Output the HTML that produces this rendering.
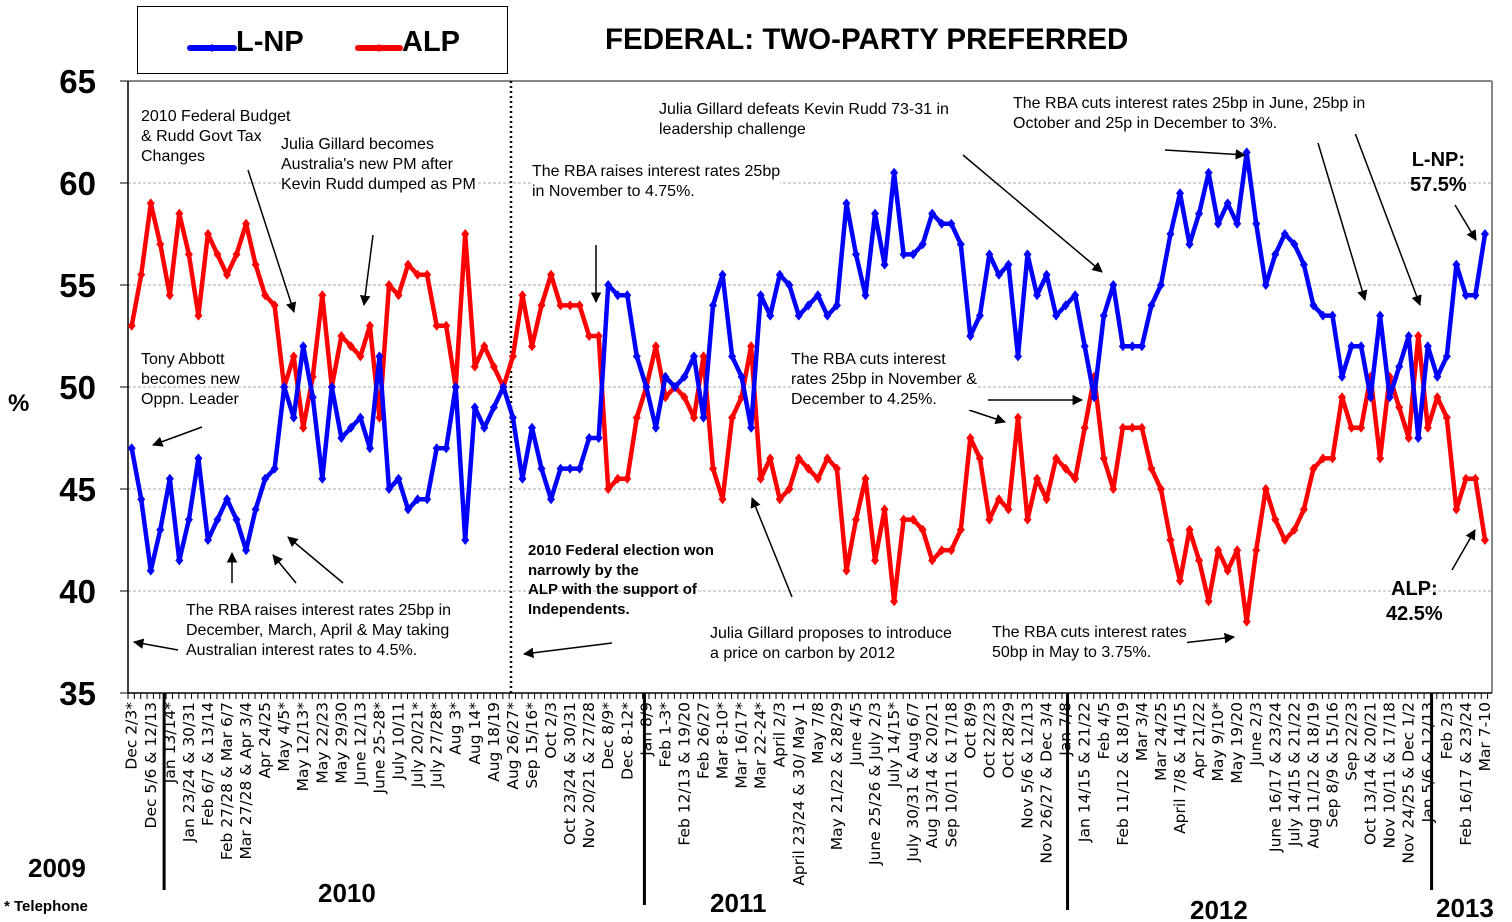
<!DOCTYPE html>
<html><head><meta charset="utf-8"><style>
body{margin:0;background:#fff;}
#wrap{position:relative;width:1512px;height:922px;overflow:hidden;font-family:"Liberation Sans",Arial,sans-serif;}
.ann{position:absolute;font-size:16px;line-height:20px;color:#000;background:#fff;white-space:nowrap;}
.b{font-weight:bold;}
</style></head><body>
<div id="wrap">
<svg id="svg" width="1512" height="922" style="position:absolute;left:0;top:0">
<defs><marker id="ah" viewBox="0 0 10 10" refX="9" refY="5" markerWidth="7" markerHeight="7" orient="auto"><path d="M0,0L10,5L0,10z" fill="#000"/></marker></defs>
<g id="grid"></g><g id="axes"></g><g id="series"></g><g id="xlabels"></g><g id="arrows"></g>
</svg>
<div style="position:absolute;left:137px;top:6px;width:369px;height:66px;border:1px solid #000;background:#fff;">
<svg width="369" height="66" style="position:absolute;left:0;top:0">
<line x1="52" y1="41" x2="96" y2="41" stroke="#00f" stroke-width="6" stroke-linecap="round"/><path d="M74,37L78,41L74,45L70,41z" fill="#00f"/>
<line x1="220" y1="41" x2="262" y2="41" stroke="#f00" stroke-width="6" stroke-linecap="round"/><path d="M241,37L245,41L241,45L237,41z" fill="#f00"/>
<text x="98" y="44" font-size="29" font-weight="bold" font-family="Liberation Sans,Arial,sans-serif">L-NP</text>
<text x="264" y="44" font-size="29" font-weight="bold" font-family="Liberation Sans,Arial,sans-serif">ALP</text>
</svg></div>
<div class="ann b" style="left:605px;top:23px;font-size:29.5px;line-height:34px;background:none;">FEDERAL: TWO-PARTY PREFERRED</div>
<div class="ann b" style="left:8px;top:394px;font-size:24px;background:none;">%</div>

<div class="ann" style="left:141px;top:107px;">2010 Federal Budget<br>&amp; Rudd Govt Tax<br>Changes</div>
<div class="ann" style="left:281px;top:135px;">Julia Gillard becomes<br>Australia's new PM after<br>Kevin Rudd dumped as PM</div>
<div class="ann" style="left:532px;top:162px;">The RBA raises interest rates 25bp<br>in November to 4.75%.</div>
<div class="ann" style="left:659px;top:100px;">Julia Gillard defeats Kevin Rudd 73-31 in<br>leadership challenge</div>
<div class="ann" style="left:1013px;top:94px;">The RBA cuts interest rates 25bp in June, 25bp in<br>October and 25p in December to 3%.</div>
<div class="ann b" style="left:1410px;top:148px;font-size:20px;line-height:25px;text-align:center;background:none;">L-NP:<br>57.5%</div>
<div class="ann" style="left:141px;top:350px;background:none;">Tony Abbott<br>becomes new<br>Oppn. Leader</div>
<div class="ann" style="left:791px;top:350px;">The RBA cuts interest<br>rates 25bp in November &amp;<br>December to 4.25%.</div>
<div class="ann b" style="left:528px;top:541px;font-size:15px;line-height:19.5px;background:none;">2010 Federal election won<br>narrowly by the<br>ALP with the support of<br>Independents.</div>
<div class="ann" style="left:186px;top:601px;">The RBA raises interest rates 25bp in<br>December, March, April &amp; May taking<br>Australian interest rates to 4.5%.</div>
<div class="ann" style="left:710px;top:624px;">Julia Gillard proposes to introduce<br>a price on carbon by 2012</div>
<div class="ann" style="left:992px;top:623px;">The RBA cuts interest rates<br>50bp in May to 3.75%.</div>
<div class="ann b" style="left:1386px;top:577px;font-size:20px;line-height:25px;text-align:center;background:none;">ALP:<br>42.5%</div>
<div class="ann b" style="left:28px;top:853px;font-size:26px;line-height:30px;background:none;">2009</div>
<div class="ann b" style="left:318px;top:878px;font-size:26px;line-height:30px;background:none;">2010</div>
<div class="ann b" style="left:710px;top:888px;font-size:26px;line-height:30px;background:none;">2011</div>
<div class="ann b" style="left:1190px;top:895px;font-size:26px;line-height:30px;background:none;">2012</div>
<div class="ann b" style="left:1436px;top:893px;font-size:26px;line-height:30px;background:none;">2013</div>
<div class="ann b" style="left:4px;top:897px;font-size:15px;background:none;">* Telephone</div>
</div>
<script>
const lnp=[47,44.5,41,43,45.5,41.5,43.5,46.5,42.5,43.5,44.5,43.5,42,44,45.5,46,50,48.5,52,49.5,45.5,50,47.5,48,48.5,47,51.5,45,45.5,44,44.5,44.5,47,47,50,42.5,49,48,49,50,48.5,45.5,
48,46,44.5,46,46,46,47.5,47.5,55,54.5,54.5,51.5,50,48,50.5,50,50.5,51.5,48.5,54,55.5,51.5,50.5,48,54.5,53.5,55.5,55,53.5,54,54.5,53.5,54,59,56.5,54.5,58.5,56,60.5,56.5,56.5,
57,58.5,58,58,57,52.5,53.5,56.5,55.5,56,51.5,56.5,54.5,55.5,53.5,54,54.5,52,49.5,53.5,55,52,52,52,54,55,57.5,59.5,57,58.5,
60.5,58,59,58,61.5,58,55,56.5,57.5,57,56,54,53.5,53.5,50.5,52,52,49.5,53.5,49.5,51,52.5,47.5,52,50.5,51.5,56,54.5,54.5,57.5];
const alp=[53,55.5,59,57,54.5,58.5,56.5,53.5,57.5,56.5,55.5,56.5,58,56,54.5,54,50,51.5,48,50.5,54.5,50,52.5,52,51.5,53,48.5,55,54.5,56,55.5,55.5,53,53,50,57.5,51,52,51,50,51.5,54.5,
52,54,55.5,54,54,54,52.5,52.5,45,45.5,45.5,48.5,50,52,49.5,50,49.5,48.5,51.5,46,44.5,48.5,49.5,52,45.5,46.5,44.5,45,46.5,46,45.5,46.5,46,41,43.5,45.5,41.5,44,39.5,43.5,43.5,
43,41.5,42,42,43,47.5,46.5,43.5,44.5,44,48.5,43.5,45.5,44.5,46.5,46,45.5,48,50.5,46.5,45,48,48,48,46,45,42.5,40.5,43,41.5,
39.5,42,41,42,38.5,42,45,43.5,42.5,43,44,46,46.5,46.5,49.5,48,48,50.5,46.5,50.5,49,47.5,52.5,48,49.5,48.5,44,45.5,45.5,42.5];
const xLabels=["Dec 2/3*","Dec 5/6 & 12/13","Jan 13/14*","Jan 23/24 & 30/31","Feb 6/7 & 13/14","Feb 27/28 & Mar 6/7","Mar 27/28 & Apr 3/4","Apr 24/25","May 4/5*","May 12/13*","May 22/23","May 29/30","June 12/13","June 25-28*","July 10/11","July 20/21*","July 27/28*","Aug 3*","Aug 14*","Aug 18/19","Aug 26/27*","Sep 15/16*","Oct 2/3","Oct 23/24 & 30/31",
"Nov 20/21 & 27/28","Dec 8/9*","Dec 8-12*","Jan 8/9","Feb 1-3*","Feb 12/13 & 19/20","Feb 26/27","Mar 8-10*","Mar 16/17*","Mar 22-24*","April 2/3","April 23/24 & 30/ May 1","May 7/8","May 21/22 & 28/29","June 4/5","June 25/26 & July 2/3","July 14/15*","July 30/31 & Aug 6/7","Aug 13/14 & 20/21","Sep 10/11 & 17/18","Oct 8/9","Oct 22/23","Oct 28/29","Nov 5/6 & 12/13",
"Nov 26/27 & Dec 3/4","Jan 7/8","Jan 14/15 & 21/22","Feb 4/5","Feb 11/12 & 18/19","Mar 3/4","Mar 24/25","April 7/8 & 14/15","Apr 21/22","May 9/10*","May 19/20","June 2/3","June 16/17 & 23/24","July 14/15 & 21/22","Aug 11/12 & 18/19","Sep 8/9 & 15/16","Sep 22/23","Oct 13/14 & 20/21","Nov 10/11 & 17/18","Nov 24/25 & Dec 1/2","Jan 5/6 & 12/13","Feb 2/3","Feb 16/17 & 23/24","Mar 7-10"];
const yTicks=[35,40,45,50,55,60,65];
const yearDividers=[3.4,53.8,98.2,136.4];
const electionIndex=39.8;

const NS="http://www.w3.org/2000/svg";
const X0=131.7, DX=9.53, L=128, R=1492, T=81, B=693;
function xs(i){return X0+i*DX;}
function ys(v){return 387-(v-50)*20.4;}
function mk(tag,attrs,parent){const e=document.createElementNS(NS,tag);for(const k in attrs)e.setAttribute(k,attrs[k]);parent.appendChild(e);return e;}
const grid=document.getElementById('grid'),axes=document.getElementById('axes'),series=document.getElementById('series'),xl=document.getElementById('xlabels'),arr=document.getElementById('arrows');
yTicks.forEach(v=>{
  if(v>35&&v<65){const g=mk('line',{x1:L,x2:R,y1:ys(v),y2:ys(v),stroke:'#aaa','stroke-width':1,'stroke-dasharray':'3,2'},grid);
  
  }
  mk('line',{x1:L-8,x2:L,y1:ys(v),y2:ys(v),stroke:'#000','stroke-width':1},axes);
  const t=mk('text',{x:96,y:ys(v)+12,'text-anchor':'end','font-size':33,'font-weight':'bold','font-family':'Liberation Sans,Arial,sans-serif'},axes);
  t.textContent=v;
  
  
});
mk('line',{x1:L,x2:R,y1:T,y2:T,stroke:'#888','stroke-width':2},axes);
mk('line',{x1:R,x2:R,y1:T,y2:B,stroke:'#888','stroke-width':2},axes);
mk('line',{x1:L,x2:L,y1:T,y2:B,stroke:'#000','stroke-width':1.5},axes);
mk('line',{x1:L,x2:R,y1:B,y2:B,stroke:'#000','stroke-width':1.5},axes);
for(let x=L;x<=R;x+=DX*2/3){mk('line',{x1:x,x2:x,y1:B,y2:B+6,stroke:'#000','stroke-width':1},axes);}
const el=xs(electionIndex);
mk('line',{x1:el,x2:el,y1:T,y2:B,stroke:'#000','stroke-width':2.5,'stroke-dasharray':'2,3'},axes);
const divBottoms=[890,905,910,890];
yearDividers.forEach((d,k)=>{const x=xs(d);
  const l=mk('line',{x1:x,x2:x,y1:B,y2:divBottoms[k],stroke:'#000','stroke-width':3},axes);
  
  
});
function drawSeries(vals,color,name){
  const pts=vals.map((v,i)=>xs(i).toFixed(1)+','+ys(v).toFixed(1)).join(' ');
  const p=mk('polyline',{points:pts,fill:'none',stroke:color,'stroke-width':4.5,'stroke-linejoin':'round'},series);
  
  
  vals.forEach((v,i)=>{const x=xs(i),y=ys(v);
    const m=mk('path',{d:`M${x},${y-5}L${x+4},${y}L${x},${y+5}L${x-4},${y}z`,fill:color},series);
    
    });
}
drawSeries(alp,'#f00','alp');
drawSeries(lnp,'#00f','lnp');
xLabels.forEach((s,k)=>{const x=xs(k*2)+5;
  const t=mk('text',{x:0,y:0,transform:`translate(${x},${B+9}) rotate(-90)`,'text-anchor':'end','font-size':15.5,'font-family':'DejaVu Sans,Liberation Sans,sans-serif'},xl);
  t.textContent=s;
  
  
});
const arrows=[[248,170,294,312],[373,235,364,305],[596,245,596,302],[963,155,1102,272],[1165,150,1245,155],[1318,143,1365,300],[1352,125,1420,305],[1455,205,1476,240],[202,427,153,445],[988,400,1082,400],[969,410,1005,422],[232,583,232,553],[296,583,273,555],[343,583,288,537],[178,650,134,642],[612,643,524,654],[792,597,752,498],[1140,648,1234,637],[1452,570,1475,530]];
arrows.forEach(a=>{const l=mk('line',{x1:a[0],y1:a[1],x2:a[2],y2:a[3],stroke:'#000','stroke-width':1.5,'marker-end':'url(#ah)'},arr);
  
  });
</script>
</body></html>
